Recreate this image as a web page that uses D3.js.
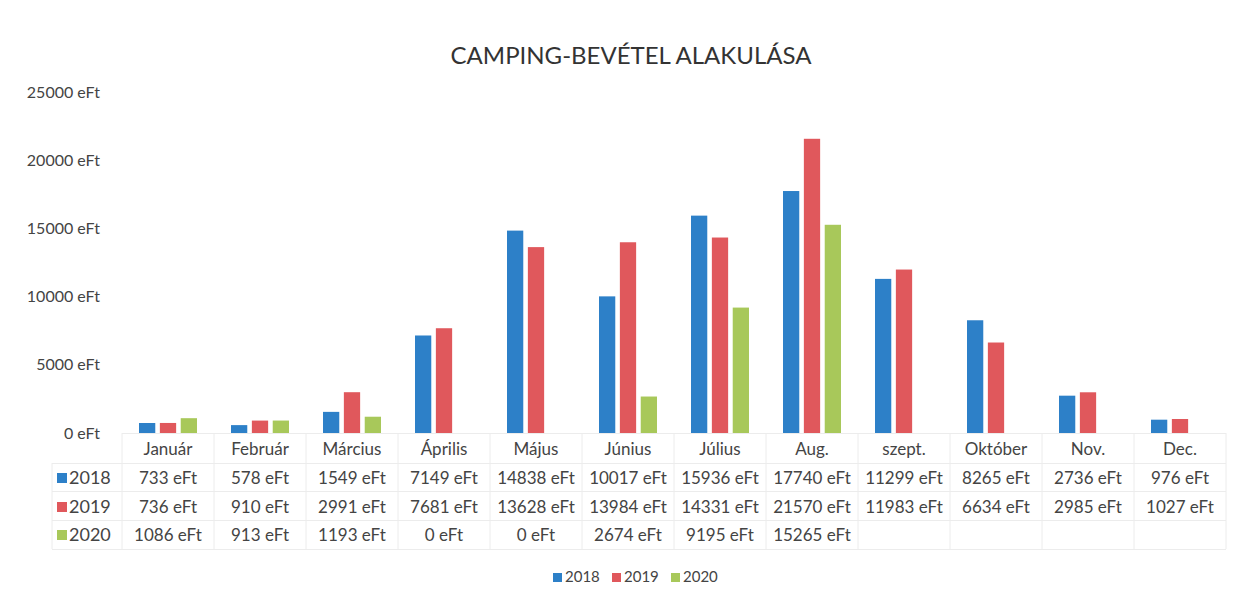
<!DOCTYPE html>
<html>
<head>
<meta charset="utf-8">
<script src="https://cdn.jsdelivr.net/npm/d3@7"></script>
<style>
  body { margin: 0; background: #fff; }
  svg { font-family: Lato, "Open Sans", sans-serif; }
</style>
</head>
<body>
<svg id="chart" width="1242" height="598"></svg>
<script>
const months = ["Január", "Február", "Március", "Április", "Május", "Június", "Július", "Aug.", "szept.", "Október", "Nov.", "Dec."];
const years = ["2018", "2019", "2020"];
const v2018 = [733, 578, 1549, 7149, 14838, 10017, 15936, 17740, 11299, 8265, 2736, 976];
const v2019 = [736, 910, 2991, 7681, 13628, 13984, 14331, 21570, 11983, 6634, 2985, 1027];
const v2020 = [1086, 913, 1193, 0, 0, 2674, 9195, 15265, null, null, null, null];
const yTicks = [0, 5000, 10000, 15000, 20000, 25000];
const colors = ["#2d80c8", "#e0585c", "#a8c85a"];

const series = [v2018, v2019, v2020];
const svg = d3.select("#chart");
const margin = { top: 92, left: 122, right: 16 };
const width = 1242 - margin.left - margin.right;
const baseY = 433;

const x = d3.scaleBand().domain(months).range([margin.left, margin.left + width]);
const xs = d3.scaleBand().domain(years).range([0, 58]).paddingInner(0.22);
const y = d3.scaleLinear().domain([0, 25000]).range([baseY, margin.top]);

// title
svg.append("text")
  .attr("x", 631).attr("y", 64)
  .attr("text-anchor", "middle")
  .attr("font-size", "24px")
  .attr("fill", "#333")
  .text("CAMPING-BEVÉTEL ALAKULÁSA");

// y axis labels
const yAxis = svg.append("g")
  .attr("transform", `translate(100,0)`)
  .call(d3.axisLeft(y).tickValues(yTicks).tickSize(0).tickPadding(0).tickFormat(d => d + " eFt"));
yAxis.select(".domain").remove();
yAxis.selectAll("text").attr("font-size", "16px").attr("fill", "#444").attr("font-family", "Lato, sans-serif");

// bars
const groups = svg.append("g").selectAll("g")
  .data(months)
  .join("g")
  .attr("transform", m => `translate(${x(m) + (x.bandwidth() - 58) / 2},0)`);

groups.selectAll("rect")
  .data((m, i) => series.map((s, k) => ({ year: years[k], value: s[i], k })).filter(d => d.value))
  .join("rect")
  .attr("x", d => xs(d.year))
  .attr("width", xs.bandwidth())
  .attr("y", d => y(d.value))
  .attr("height", d => baseY - y(d.value))
  .attr("fill", d => colors[d.k]);

// data table
const rowY = [455, 484, 513, 541];
const tableLeft = 52;
const grid = svg.append("g").attr("stroke", "#ececec").attr("stroke-width", 1);
grid.append("line").attr("x1", margin.left).attr("x2", margin.left + width).attr("y1", baseY + 0.5).attr("y2", baseY + 0.5);
[463, 491, 520, 549].forEach(yy => {
  grid.append("line").attr("x1", tableLeft).attr("x2", margin.left + width).attr("y1", yy + 0.5).attr("y2", yy + 0.5);
});
months.concat(["end"]).forEach((m, i) => {
  const xx = margin.left + i * x.bandwidth();
  grid.append("line").attr("x1", xx).attr("x2", xx).attr("y1", baseY).attr("y2", 549);
});
grid.append("line").attr("x1", tableLeft).attr("x2", tableLeft).attr("y1", 463).attr("y2", 549);

svg.append("g").selectAll("text")
  .data(months)
  .join("text")
  .attr("x", m => x(m) + x.bandwidth() / 2)
  .attr("y", rowY[0])
  .attr("text-anchor", "middle")
  .attr("font-size", "17px")
  .attr("fill", "#444")
  .text(m => m);

series.forEach((s, k) => {
  const row = svg.append("g");
  row.append("rect").attr("x", 57).attr("y", rowY[k + 1] - 11).attr("width", 10).attr("height", 10).attr("fill", colors[k]);
  row.append("text").attr("x", 69).attr("y", rowY[k + 1]).attr("font-size", "18px").attr("fill", "#444").text(years[k]);
  row.selectAll("text.val")
    .data(s.map((v, i) => ({ v, m: months[i] })).filter(d => d.v !== null))
    .join("text")
    .attr("class", "val")
    .attr("x", d => x(d.m) + x.bandwidth() / 2)
    .attr("y", rowY[k + 1])
    .attr("text-anchor", "middle")
    .attr("font-size", "17px")
    .attr("fill", "#444")
    .text(d => d.v + " eFt");
});

// legend
const legend = svg.append("g").attr("transform", "translate(553,582)");
years.forEach((yr, k) => {
  const lg = legend.append("g").attr("transform", `translate(${k * 59},0)`);
  lg.append("rect").attr("x", 0).attr("y", -9).attr("width", 9).attr("height", 9).attr("fill", colors[k]);
  lg.append("text").attr("x", 12).attr("y", 0).attr("font-size", "15px").attr("fill", "#444").text(yr);
});
</script>
</body>
</html>
